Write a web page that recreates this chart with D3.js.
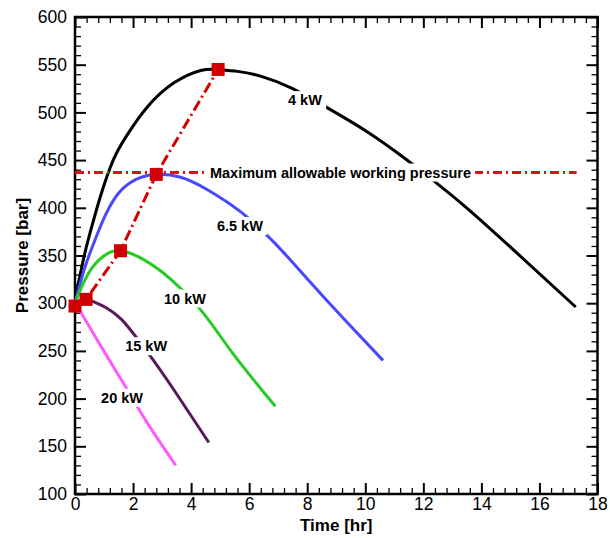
<!DOCTYPE html>
<html>
<head>
<meta charset="utf-8">
<script src="https://cdn.jsdelivr.net/npm/d3@7"></script>
<style>
  body { margin: 0; background: #fff; }
  svg { display: block; font-family: "Liberation Sans", Arial, sans-serif; }
</style>
</head>
<body>
<svg id="chart" width="610" height="538"></svg>
<script>
// ---------------- data ----------------
const t4  = [0, 0.06, 0.29, 0.52, 0.75, 0.97, 1.21, 1.44, 1.81, 2.5, 3.41, 4.33, 4.93, 5.6, 6.39, 7.42, 8.57, 10.05, 11.31, 12.12, 13.49, 15.21, 17.25];
const p4  = [300, 312, 346, 374, 399, 421, 442, 458, 477, 506, 531, 544, 545, 543, 538, 526, 507, 480, 453, 434, 400, 353, 296];

const t65 = [0, 0.17, 0.4, 0.75, 1.09, 1.55, 2.12, 2.76, 3.64, 4.56, 5.7, 6.85, 7.99, 9.25, 10.61];
const p65 = [300, 320, 343, 371, 395, 417, 430, 435, 432, 419, 396, 364, 326, 284, 240];

const t10 = [0, 0.17, 0.52, 0.97, 1.57, 2.35, 2.81, 3.3, 4.33, 5.47, 6.9];
const p10 = [300, 313, 334, 349, 355, 346, 337, 325, 293, 246, 192];

const t15 = [0, 0.2, 0.4, 0.61, 1.09, 1.6, 2.04, 2.61, 3.41, 4.61];
const p15 = [300, 303, 304, 302, 295, 283, 267, 244, 209, 154];

const t20 = [0, 0.21, 1.01, 1.81, 2.5, 3.47];
const p20 = [300, 290, 249, 209, 174, 130];

const seriesNames  = ["4 kW", "6.5 kW", "10 kW", "15 kW", "20 kW"];
const seriesColors = ["#000000", "#4848ff", "#22cc22", "#5a1a5a", "#ff5cff"];

// peak markers
const peakT = [0, 0.38, 1.57, 2.8, 4.93];
const peakP = [297, 304, 355, 435, 545];

// maximum allowable working pressure
const maxPressure = 437;
const maxLineT = [0, 17.28];
const maxLabel = "Maximum allowable working pressure";

// curve label anchors (data coords)
const labelT = [7.92, 5.68, 3.79, 2.45, 1.62];
const labelP = [513, 381, 305, 255, 201];
const maxLabelT = 4.65;

// axes
const xMajor = [0, 2, 4, 6, 8, 10, 12, 14, 16, 18];
const yMajor = [100, 150, 200, 250, 300, 350, 400, 450, 500, 550, 600];
const xTitle = "Time [hr]";
const yTitle = "Pressure [bar]";

// ---------------- layout ----------------
const svg = d3.select("#chart");
const margin = {left: 75, top: 17, right: 12.5, bottom: 44};
const W = 610 - margin.left - margin.right;
const H = 538 - margin.top - margin.bottom;
const g = svg.append("g").attr("transform", `translate(${margin.left},${margin.top})`);

const x = d3.scaleLinear().domain([0, 18]).range([0, W]);
const y = d3.scaleLinear().domain([100, 600]).range([H, 0]);

const xMinor = d3.range(0, 18.001, 0.4).filter(v => !xMajor.some(m => Math.abs(m - v) < 1e-6));
const yMinor = d3.range(100, 600.001, 10).filter(v => !yMajor.some(m => Math.abs(m - v) < 1e-6));

const MAJ = 11, MIN = 6;

function styleAxis(sel, sw) {
  sel.select(".domain").remove();
  sel.selectAll(".tick line").attr("stroke", "#000").attr("stroke-width", sw);
}

// bottom
g.append("g").attr("transform", `translate(0,${H})`)
  .call(d3.axisBottom(x).tickValues(xMinor).tickSize(-MIN).tickFormat(""))
  .call(s => styleAxis(s, 1.3));
const xb = g.append("g").attr("transform", `translate(0,${H})`)
  .call(d3.axisBottom(x).tickValues(xMajor).tickSize(-MAJ).tickPadding(4).tickFormat(d3.format("d")))
  .call(s => styleAxis(s, 2));
xb.selectAll("text").attr("font-size", 17.5).attr("fill", "#000").attr("font-family", "Liberation Sans, Arial, sans-serif");
// top
g.append("g")
  .call(d3.axisTop(x).tickValues(xMinor).tickSize(-MIN).tickFormat(""))
  .call(s => styleAxis(s, 1.3));
g.append("g")
  .call(d3.axisTop(x).tickValues(xMajor).tickSize(-MAJ).tickFormat(""))
  .call(s => styleAxis(s, 2));
// left
g.append("g")
  .call(d3.axisLeft(y).tickValues(yMinor).tickSize(-MIN).tickFormat(""))
  .call(s => styleAxis(s, 1.3));
const yl = g.append("g")
  .call(d3.axisLeft(y).tickValues(yMajor).tickSize(-MAJ).tickPadding(8).tickFormat(d3.format("d")))
  .call(s => styleAxis(s, 2));
yl.selectAll("text").attr("font-size", 17.5).attr("fill", "#000").attr("font-family", "Liberation Sans, Arial, sans-serif");
// right
g.append("g").attr("transform", `translate(${W},0)`)
  .call(d3.axisRight(y).tickValues(yMinor).tickSize(-MIN).tickFormat(""))
  .call(s => styleAxis(s, 1.3));
g.append("g").attr("transform", `translate(${W},0)`)
  .call(d3.axisRight(y).tickValues(yMajor).tickSize(-MAJ).tickFormat(""))
  .call(s => styleAxis(s, 2));

// frame
g.append("rect").attr("x", 0).attr("y", 0).attr("width", W).attr("height", H)
  .attr("fill", "none").attr("stroke", "#000").attr("stroke-width", 2.5);

// titles
svg.append("text").attr("x", margin.left + W / 2).attr("y", 531)
  .attr("text-anchor", "middle").attr("font-size", 17).attr("font-weight", "bold").text(xTitle);
svg.append("text").attr("transform", `translate(28,${margin.top + H / 2}) rotate(-90)`)
  .attr("text-anchor", "middle").attr("font-size", 17).attr("font-weight", "bold").text(yTitle);

// ---------------- curves ----------------
const line = d3.line().x(d => x(d[0])).y(d => y(d[1])).curve(d3.curveNatural);
const allT = [t4, t65, t10, t15, t20];
const allP = [p4, p65, p10, p15, p20];
allT.forEach((ts, i) => {
  const pts = ts.map((t, j) => [t, allP[i][j]]);
  g.append("path").datum(pts).attr("d", line)
    .attr("fill", "none").attr("stroke", seriesColors[i]).attr("stroke-width", 3)
    .attr("stroke-linecap", "butt");
});

// maximum allowable pressure line (dash-dot)
const dashPattern = "9,4,2,4";
g.append("line")
  .attr("x1", x(maxLineT[0])).attr("x2", x(maxLineT[1]))
  .attr("y1", y(maxPressure)).attr("y2", y(maxPressure))
  .attr("stroke", "#dd1111").attr("stroke-width", 3).attr("stroke-dasharray", dashPattern);

// peak trace line
const peakPts = peakT.map((t, i) => [t, peakP[i]]);
g.append("path").datum(peakPts)
  .attr("d", d3.line().x(d => x(d[0])).y(d => y(d[1])))
  .attr("fill", "none").attr("stroke", "#d40000").attr("stroke-width", 3)
  .attr("stroke-dasharray", "11,4,2,4");

// markers
const MS = 13;
g.selectAll("rect.mk").data(peakPts).enter().append("rect").attr("class", "mk")
  .attr("x", d => x(d[0]) - MS / 2).attr("y", d => y(d[1]) - MS / 2)
  .attr("width", MS).attr("height", MS).attr("fill", "#d10000");

// ---------------- labels with white background ----------------
function addLabel(tx, ty, text, anchor) {
  const grp = g.append("g");
  const txt = grp.append("text").attr("x", tx).attr("y", ty)
    .attr("dy", "0.35em").attr("text-anchor", anchor)
    .attr("font-size", 14.5).attr("font-weight", "bold").attr("fill", "#000").text(text);
  const bb = txt.node().getBBox();
  grp.insert("rect", "text")
    .attr("x", bb.x - 4).attr("y", bb.y - 1).attr("width", bb.width + 8).attr("height", bb.height + 2)
    .attr("fill", "#fff");
}
seriesNames.forEach((n, i) => addLabel(x(labelT[i]), y(labelP[i]), n, "middle"));
addLabel(x(maxLabelT), y(maxPressure), maxLabel, "start");
</script>
</body>
</html>
